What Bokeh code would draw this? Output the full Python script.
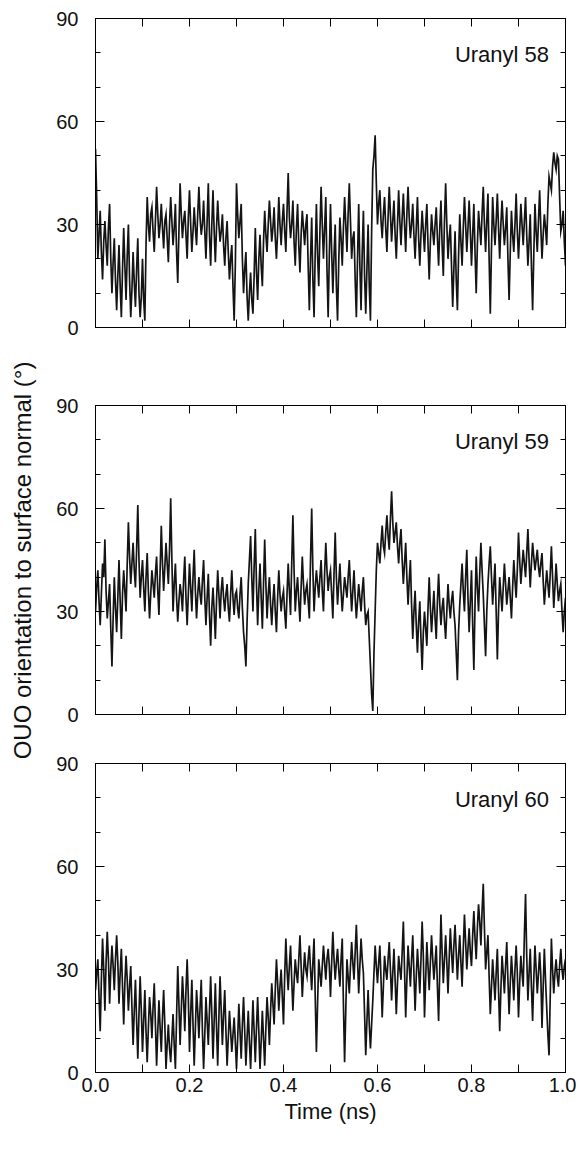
import numpy as np
from bokeh.plotting import figure
from bokeh.models import (Range1d, LinearAxis, FixedTicker, Label,
                          ColumnDataSource, NumeralTickFormatter)
from bokeh.layouts import row, column
from bokeh.embed import file_html
from bokeh.resources import INLINE

# ---------------- data (one row = 0.05 ns) ----------------
time_ns = [round(i * 0.0025, 4) for i in range(401)]

uranyl58 = [
    52, 38, 20, 27, 34, 22, 14, 25, 31, 24, 18, 29, 36, 20, 10, 19, 26, 14, 5, 15,
    24, 12, 3, 17, 29, 18, 8, 21, 30, 14, 3, 11, 22, 13, 6, 17, 26, 10, 3, 9,
    20, 8, 2, 24, 38, 30, 25, 33, 35, 28, 22, 31, 41, 33, 26, 30, 36, 29, 23, 31,
    33, 26, 19, 30, 38, 31, 24, 29, 36, 22, 13, 28, 42, 33, 26, 31, 34, 27, 20, 32,
    40, 30, 22, 28, 35, 29, 24, 33, 41, 32, 27, 30, 37, 28, 20, 31, 42, 27, 18, 30,
    40, 28, 19, 29, 37, 30, 25, 28, 33, 24, 18, 26, 31, 22, 14, 20, 24, 12, 2, 18,
    42, 33, 26, 31, 36, 20, 10, 17, 22, 9, 2, 10, 16, 8, 4, 15, 29, 16, 8, 20,
    27, 18, 12, 25, 34, 27, 22, 30, 37, 31, 25, 29, 35, 26, 20, 28, 38, 30, 24, 31,
    36, 28, 22, 34, 45, 32, 26, 30, 37, 25, 18, 29, 36, 24, 16, 27, 34, 29, 24, 30,
    33, 18, 5, 20, 32, 14, 3, 22, 36, 21, 12, 28, 41, 30, 20, 29, 38, 17, 3, 21,
    36, 22, 10, 21, 30, 12, 2, 19, 32, 26, 18, 29, 38, 30, 22, 33, 42, 31, 20, 26,
    28, 14, 3, 20, 36, 18, 5, 22, 34, 15, 4, 17, 30, 12, 2, 28, 46, 50, 56, 42,
    30, 36, 40, 31, 26, 33, 38, 29, 22, 32, 41, 33, 25, 31, 37, 27, 20, 30, 40, 31,
    24, 32, 39, 30, 22, 33, 41, 32, 26, 30, 36, 27, 20, 29, 38, 26, 18, 27, 34, 28,
    22, 30, 36, 24, 14, 25, 33, 28, 24, 30, 35, 26, 18, 29, 37, 24, 15, 31, 42, 30,
    20, 26, 30, 18, 6, 17, 28, 14, 5, 21, 33, 25, 18, 29, 38, 30, 22, 29, 37, 28,
    18, 27, 36, 22, 10, 24, 34, 29, 24, 33, 41, 30, 22, 31, 39, 20, 4, 23, 38, 30,
    24, 31, 39, 29, 20, 30, 37, 30, 24, 29, 35, 20, 8, 22, 34, 27, 22, 30, 39, 28,
    20, 28, 36, 30, 24, 31, 38, 27, 18, 25, 33, 18, 5, 21, 36, 28, 22, 31, 40, 29,
    20, 27, 33, 29, 24, 36, 44, 42, 40, 47, 51, 48, 46, 50, 49, 38, 28, 30, 34, 25,
    18,
]

uranyl59 = [
    30, 37, 42, 33, 26, 35, 44, 40, 51, 36, 28, 33, 38, 25, 14, 28, 40, 31, 24, 34,
    45, 33, 22, 35, 42, 36, 30, 44, 56, 46, 38, 44, 50, 42, 37, 48, 61, 45, 34, 40,
    45, 37, 30, 40, 47, 36, 28, 35, 42, 38, 34, 41, 46, 36, 29, 42, 55, 44, 36, 43,
    50, 44, 38, 48, 63, 45, 30, 38, 44, 34, 27, 33, 38, 35, 30, 39, 46, 34, 26, 35,
    44, 37, 30, 40, 48, 36, 28, 35, 40, 35, 32, 39, 45, 34, 26, 34, 41, 29, 20, 31,
    37, 30, 22, 33, 42, 35, 28, 36, 40, 34, 30, 35, 38, 31, 27, 35, 42, 34, 29, 35,
    36, 31, 28, 35, 40, 31, 24, 20, 14, 27, 38, 45, 52, 40, 30, 43, 54, 38, 26, 36,
    44, 34, 25, 38, 51, 38, 28, 35, 40, 32, 26, 33, 38, 30, 24, 34, 42, 35, 30, 34,
    36, 30, 25, 35, 44, 36, 29, 44, 58, 42, 30, 36, 40, 33, 27, 37, 46, 38, 32, 36,
    38, 33, 28, 45, 60, 42, 30, 37, 42, 38, 34, 40, 45, 36, 30, 41, 50, 42, 36, 40,
    42, 35, 28, 41, 53, 40, 32, 38, 44, 36, 30, 35, 40, 37, 34, 40, 45, 37, 30, 36,
    42, 34, 28, 33, 38, 34, 30, 36, 40, 32, 26, 29, 30, 22, 14, 6, 1, 18, 30, 42,
    50, 47, 44, 50, 55, 49, 47, 53, 58, 52, 48, 57, 65, 56, 50, 53, 56, 49, 44, 50,
    54, 45, 38, 44, 50, 40, 32, 39, 45, 32, 22, 30, 36, 26, 18, 27, 33, 22, 13, 24,
    30, 25, 20, 31, 40, 31, 24, 30, 36, 28, 22, 33, 41, 32, 26, 31, 34, 27, 22, 30,
    38, 32, 28, 33, 36, 30, 26, 18, 10, 24, 32, 38, 44, 36, 30, 40, 48, 34, 24, 33,
    42, 26, 13, 32, 46, 37, 30, 41, 50, 42, 35, 26, 17, 30, 38, 44, 49, 40, 32, 38,
    44, 30, 16, 30, 40, 35, 30, 37, 44, 38, 32, 36, 40, 34, 28, 37, 45, 39, 34, 42,
    53, 45, 38, 43, 48, 44, 40, 47, 54, 45, 37, 44, 50, 46, 42, 45, 48, 43, 40, 44,
    47, 39, 32, 37, 42, 38, 34, 41, 49, 40, 31, 37, 44, 38, 33, 36, 38, 30, 24, 30,
    34,
]

uranyl60 = [
    24, 29, 33, 22, 12, 27, 39, 30, 18, 32, 41, 33, 20, 30, 37, 31, 24, 33, 40, 32,
    20, 29, 36, 25, 14, 26, 34, 27, 18, 25, 31, 19, 8, 18, 27, 15, 4, 17, 28, 18,
    6, 15, 24, 12, 3, 13, 22, 17, 10, 19, 26, 14, 2, 12, 21, 13, 6, 16, 24, 14,
    1, 8, 14, 7, 3, 10, 17, 8, 1, 16, 31, 20, 8, 18, 28, 21, 12, 24, 33, 22,
    6, 17, 27, 14, 2, 13, 24, 18, 10, 19, 27, 12, 1, 11, 22, 15, 8, 18, 28, 17,
    4, 15, 26, 13, 2, 16, 28, 18, 8, 17, 24, 12, 2, 10, 18, 12, 6, 11, 16, 9,
    1, 10, 20, 12, 4, 14, 22, 12, 2, 10, 18, 9, 1, 11, 21, 12, 3, 13, 22, 12,
    1, 9, 18, 10, 2, 13, 22, 16, 8, 18, 26, 20, 14, 24, 33, 26, 18, 25, 30, 22,
    14, 28, 39, 30, 24, 31, 37, 27, 18, 26, 33, 29, 26, 33, 40, 31, 22, 29, 35, 30,
    28, 33, 37, 30, 24, 32, 39, 22, 6, 20, 33, 29, 25, 31, 37, 32, 27, 33, 36, 31,
    22, 32, 41, 33, 27, 32, 36, 30, 25, 33, 39, 20, 3, 18, 33, 28, 23, 31, 38, 32,
    27, 35, 43, 33, 23, 31, 39, 33, 29, 17, 5, 15, 24, 14, 7, 14, 21, 29, 37, 31,
    26, 32, 37, 27, 16, 25, 34, 30, 27, 33, 38, 30, 21, 29, 36, 27, 17, 26, 34, 30,
    27, 35, 44, 30, 16, 27, 37, 31, 25, 33, 40, 29, 18, 28, 36, 30, 23, 33, 44, 34,
    16, 27, 38, 31, 24, 32, 40, 33, 27, 32, 37, 25, 15, 30, 46, 35, 26, 33, 40, 32,
    23, 33, 42, 35, 29, 37, 43, 35, 27, 34, 40, 32, 25, 36, 46, 38, 30, 36, 42, 35,
    31, 40, 47, 39, 33, 42, 49, 44, 37, 47, 55, 42, 30, 35, 40, 28, 17, 25, 33, 27,
    21, 29, 36, 24, 12, 24, 34, 29, 23, 31, 38, 27, 17, 26, 34, 28, 21, 30, 37, 29,
    16, 26, 34, 29, 25, 40, 52, 34, 21, 29, 36, 25, 15, 27, 37, 30, 23, 29, 35, 28,
    13, 25, 36, 27, 19, 11, 5, 22, 39, 30, 23, 29, 33, 28, 25, 31, 36, 30, 27, 31,
    33,
]

assert len(uranyl58) == len(uranyl59) == len(uranyl60) == len(time_ns)

panel_titles = ["Uranyl 58", "Uranyl 59", "Uranyl 60"]
x_major_ticks = [0.0, 0.2, 0.4, 0.6, 0.8, 1.0]
x_minor_ticks = [0.1, 0.3, 0.5, 0.7, 0.9]
y_major_ticks = [0, 30, 60, 90]
y_minor_ticks = [10, 20, 40, 50, 70, 80]
y_label_text = "OUO orientation to surface normal (°)"
x_label_text = "Time (ns)"

FONT = "Liberation Sans"
LINE_COLOR = "#141414"


def style_axis(ax, ticker, major_in, minor_in, show_labels):
    ax.ticker = ticker
    ax.major_tick_in = major_in
    ax.major_tick_out = 0
    ax.minor_tick_in = minor_in
    ax.minor_tick_out = 0
    ax.axis_line_color = "black"
    ax.major_tick_line_color = "black"
    ax.minor_tick_line_color = "black"
    ax.major_label_text_font = FONT
    if show_labels:
        ax.major_label_text_color = "#111111"
        ax.major_label_text_font_size = "20px"
    else:
        ax.major_label_text_color = None
        ax.major_label_text_font_size = "1px"
        ax.major_label_standoff = 0


def make_panel(values, title, top, bottom, show_x):
    p = figure(frame_width=470, frame_height=309,
               x_range=Range1d(0, 1), y_range=Range1d(0, 90),
               output_backend="svg", toolbar_location=None,
               min_border_left=47, min_border_right=11,
               min_border_top=top, min_border_bottom=bottom)
    p.grid.visible = False
    p.outline_line_color = "black"
    p.background_fill_color = "white"
    p.border_fill_color = "white"

    src = ColumnDataSource(dict(t=time_ns, v=values))
    p.line("t", "v", source=src, line_color=LINE_COLOR, line_width=1.7,
           line_join="miter")

    xt = FixedTicker(ticks=x_major_ticks, minor_ticks=x_minor_ticks)
    yt = FixedTicker(ticks=y_major_ticks, minor_ticks=y_minor_ticks)

    p.add_layout(LinearAxis(), "above")
    p.add_layout(LinearAxis(), "right")

    for ax in p.below:
        style_axis(ax, xt, 8, 8, show_x)
        ax.formatter = NumeralTickFormatter(format="0.0")
        if show_x:
            ax.major_label_standoff = 5
            ax.axis_label = x_label_text
            ax.axis_label_text_font = FONT
            ax.axis_label_text_font_size = "22px"
            ax.axis_label_text_font_style = "normal"
            ax.axis_label_text_color = "#111111"
            ax.axis_label_standoff = 4
    for ax in p.above:
        style_axis(ax, xt, 8, 8, False)
    for ax in p.left:
        style_axis(ax, yt, 9, 5, True)
        ax.major_label_standoff = 17
    for ax in p.right:
        style_axis(ax, yt, 9, 5, False)

    p.add_layout(Label(x=0.965, y=79.5, text=title, text_align="right",
                       text_baseline="middle", text_font=FONT,
                       text_font_size="22px", text_color="#111111"))
    return p


p1 = make_panel(uranyl58, panel_titles[0], 18, 39, False)
p2 = make_panel(uranyl59, panel_titles[1], 39, 24, False)
p3 = make_panel(uranyl60, panel_titles[2], 25, 64, True)

TOTAL_H = 366 + 372 + 398
lab = figure(width=48, height=TOTAL_H, x_range=Range1d(0, 48),
             y_range=Range1d(0, TOTAL_H), min_border=0,
             x_axis_location=None, y_axis_location=None,
             toolbar_location=None, output_backend="svg")
lab.grid.visible = False
lab.outline_line_color = None
lab.add_layout(Label(x=22, y=TOTAL_H - 560, text=y_label_text,
                     angle=np.pi / 2, text_align="center",
                     text_baseline="middle", text_font=FONT,
                     text_font_size="24px", text_color="#111111"))

layout = row(lab, column(p1, p2, p3))

with open("out.html", "w") as f:
    f.write(file_html(layout, INLINE))
